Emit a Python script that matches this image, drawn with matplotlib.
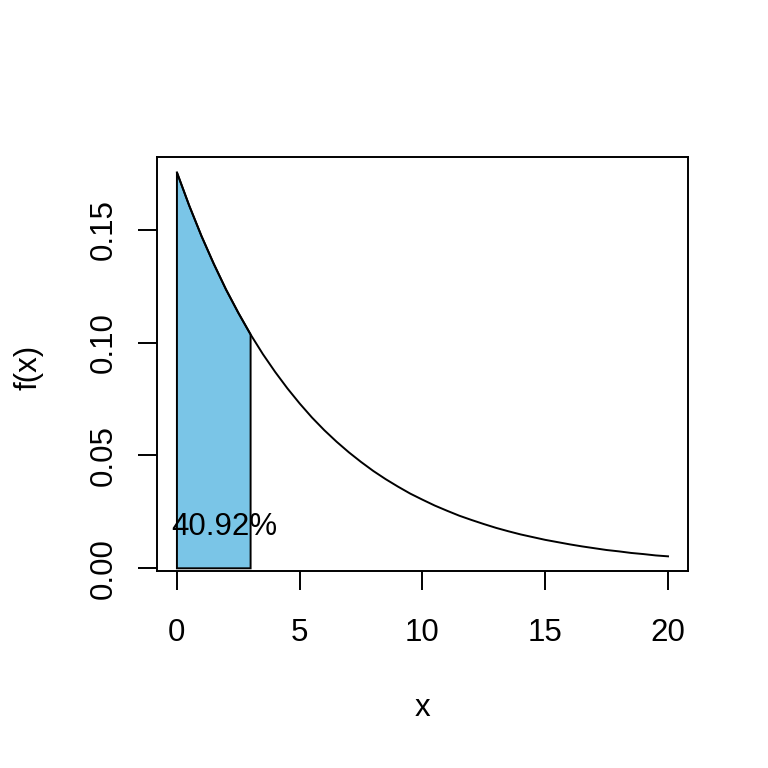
import numpy as np
import matplotlib
matplotlib.use("Agg")
import matplotlib.pyplot as plt

# === Data (density at x = 0, 0.5, ..., 20) ===
x_vals = np.arange(0, 20.5, 0.5)
fx_vals = [0.1754, 0.1607, 0.1472, 0.1349, 0.1235, 0.1132, 0.1036, 0.0949,
           0.0870, 0.0797, 0.0730, 0.0668, 0.0612, 0.0561, 0.0514, 0.0471,
           0.0431, 0.0395, 0.0362, 0.0331, 0.0304, 0.0278, 0.0255, 0.0233,
           0.0214, 0.0196, 0.0179, 0.0164, 0.0150, 0.0138, 0.0126, 0.0116,
           0.0106, 0.0097, 0.0089, 0.0081, 0.0075, 0.0068, 0.0063, 0.0057,
           0.0053]
shade_upper = 3.0
area_label = "40.92%"
x_ticks = [0, 5, 10, 15, 20]
y_ticks = [0.00, 0.05, 0.10, 0.15]

plt.rcParams['font.family'] = ['Liberation Sans', 'DejaVu Sans']
FS = 22.5

fig = plt.figure(figsize=(7.68, 7.68), dpi=100)
ax = fig.add_axes([0.2048, 0.2565, 0.6906, 0.5387])

# === Shaded area under curve ===
fx = np.array(fx_vals)
mask = x_vals <= shade_upper
px = np.concatenate([[0], x_vals[mask], [shade_upper]])
py = np.concatenate([[0], fx[mask], [0]])
ax.fill(px, py, facecolor='#7AC5E7', edgecolor='black', linewidth=1.4)

# === Density curve ===
ax.plot(x_vals, fx, color='black', linewidth=1.4)

ax.text(1.93, 0.0148, area_label, fontsize=FS, ha='center', va='baseline')

ax.set_xlim(-0.8, 20.8)
ax.set_ylim(-0.0012, 0.1821)
ax.set_xticks(x_ticks)
ax.set_xticklabels([str(t) for t in x_ticks])
ax.set_yticks(y_ticks)
ax.set_yticklabels([f"{t:.2f}" for t in y_ticks], rotation=90, va='center')
ax.tick_params(labelsize=FS, length=13.7, width=1.4)
ax.tick_params(axis='x', pad=20)
ax.tick_params(axis='y', pad=14)
for sp in ax.spines.values():
    sp.set_linewidth(1.4)

fig.text(422 / 768, 1 - 708 / 768, "x", fontsize=FS, ha='center', va='center')
fig.text(28 / 768, 1 - 367 / 768, "f(x)", fontsize=FS, ha='center', va='center',
         rotation=90)

fig.savefig("out.png", dpi=100)
plt.close(fig)
